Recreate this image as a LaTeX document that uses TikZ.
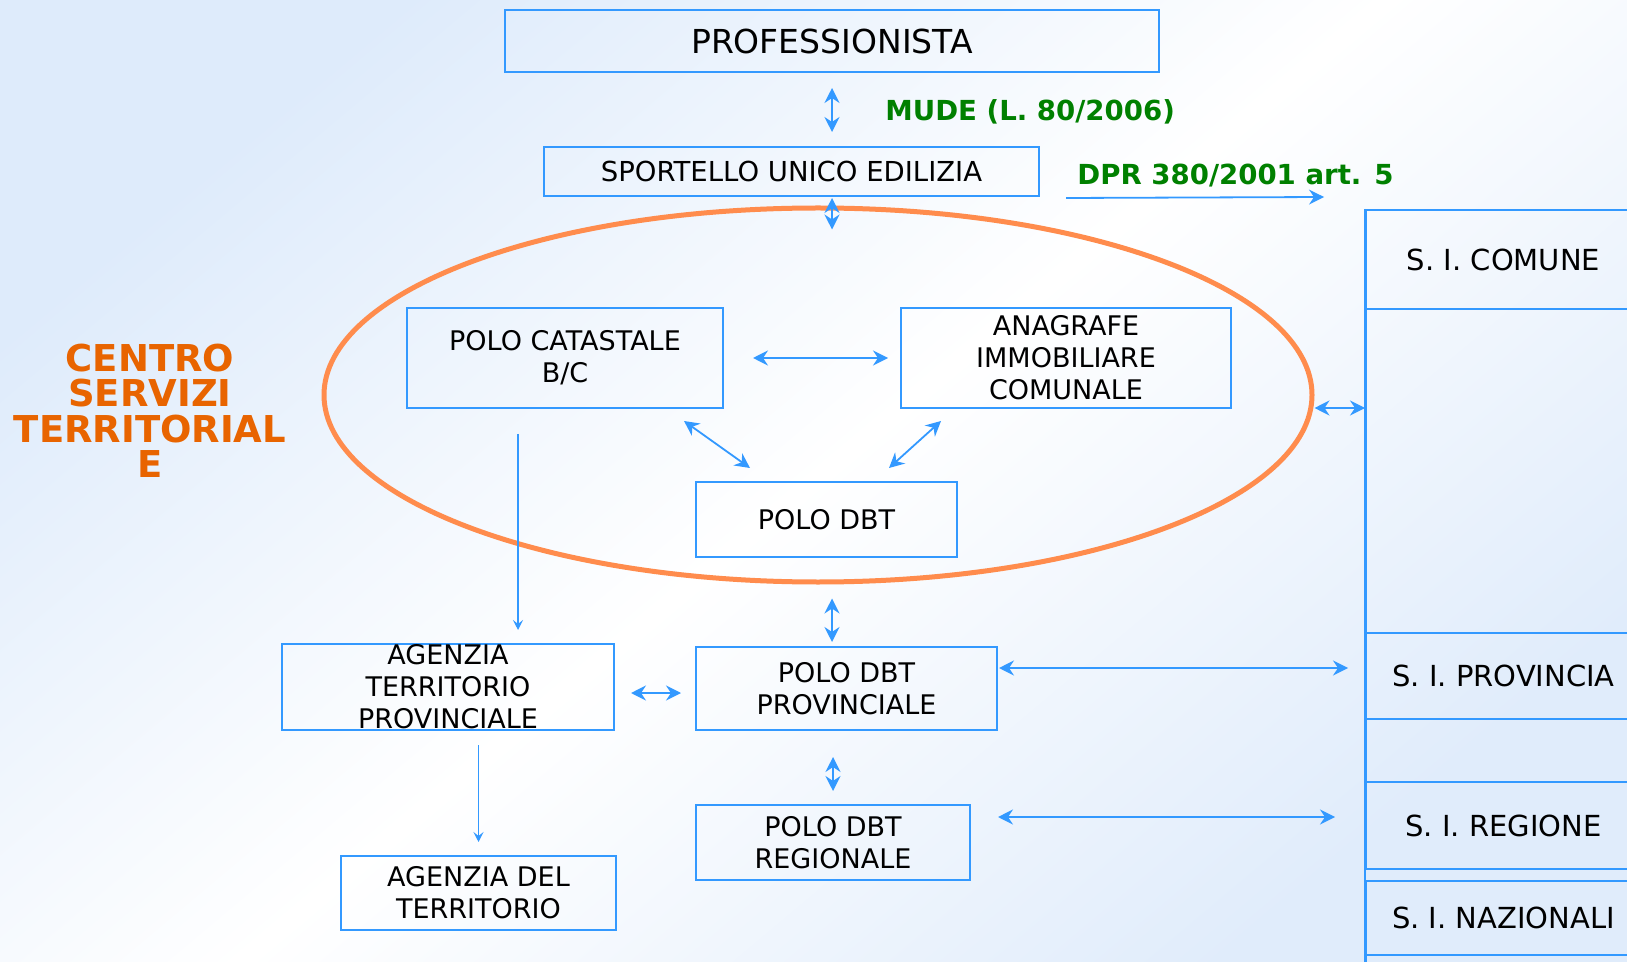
\documentclass[tikz,border=0pt]{standalone}
\usepackage{fontspec}
\setmainfont{DejaVu Sans}
\usepackage{tikz}
\usetikzlibrary{arrows.meta,positioning,calc,shapes.geometric}
\definecolor{boxblue}{RGB}{51,153,255}
\definecolor{ringorange}{RGB}{255,140,77}
\definecolor{lawgreen}{RGB}{0,128,0}
\definecolor{cstorange}{RGB}{232,100,0}
\definecolor{bgblue}{RGB}{222,235,251}
\definecolor{bgbluelow}{RGB}{224,236,251}
\tikzset{
  box/.style={rectangle, draw=boxblue, line width=1pt, inner sep=0pt,
              align=center, font=\fontsize{13.5}{16}\selectfont},
  sibox/.style={rectangle, draw=boxblue, line width=1pt, inner sep=0pt,
                minimum width=137.5pt, anchor=north west,
                font=\fontsize{14.5}{17}\selectfont},
  ring/.style={ellipse, draw=ringorange, line width=2.5pt, inner sep=0pt,
               minimum width=494pt, minimum height=187pt},
  link/.style={boxblue, line width=0.9pt},
  flow/.style={boxblue, line width=0.9pt, >={Stealth[length=5pt,width=5pt,inset=2pt]}},
  law/.style={font=\fontsize{13.8}{16}\selectfont\bfseries, text=lawgreen, inner sep=0pt},
}
\begin{document}
\begin{tikzpicture}[x=0.5pt, y=-0.5pt, >={Stealth[length=7.5pt,width=7.5pt,inset=2.5pt]}]
  % Background
  \shade[top color=bgblue, bottom color=bgbluelow, middle color=white, shading angle=40]
    (0,0) rectangle (1627,962);
  \useasboundingbox (0,0) rectangle (1627,962);
  \clip (0,0) rectangle (1627,962);
  % Upper chain
  \node[box, minimum width=327pt, minimum height=31pt,
        font=\fontsize{16.5}{19}\selectfont] (prof) at (832,41) {PROFESSIONISTA};
  \node[box, minimum width=247.5pt, minimum height=24.5pt,
        font=\fontsize{13.75}{16}\selectfont] (sue) at (791.5,171.5) {SPORTELLO UNICO EDILIZIA};
  \node[law, anchor=west] (mude) at (885,112) {MUDE (L. 80/2006)};
  \node[law, anchor=west] (dpr) at (1077,176) {DPR 380/2001 art. 5};
  % Territorial service centre
  \node[ring] (cst) at (818,395) {};
  \node[font=\fontsize{18.5}{17.75}\selectfont\bfseries, text=cstorange, align=center,
        inner sep=0pt] (csttitle) at (150,411) {CENTRO\\SERVIZI\\TERRITORIAL\\E};
  \node[box, minimum width=158pt, minimum height=50pt] (polocat) at (565,358) {POLO CATASTALE\\B/C};
  \node[box, minimum width=165pt, minimum height=50pt] (anagrafe) at (1066,358) {ANAGRAFE\\IMMOBILIARE\\COMUNALE};
  \node[box, minimum width=130.5pt, minimum height=37.5pt] (polodbt) at (826.5,519.5) {POLO DBT};
  % Lower levels
  \node[box, minimum width=166pt, minimum height=43pt] (agtp) at (448,687) {AGENZIA\\TERRITORIO\\PROVINCIALE};
  \node[box, minimum width=150.5pt, minimum height=41.5pt] (dbtprov) at (846.5,688.5) {POLO DBT\\PROVINCIALE};
  \node[box, minimum width=137pt, minimum height=37.5pt] (dbtreg) at (833,842.5) {POLO DBT\\REGIONALE};
  \node[box, minimum width=137.5pt, minimum height=37pt] (agdt) at (478.5,893) {AGENZIA DEL\\TERRITORIO};
  % Information systems column
  \node[sibox, minimum height=49.5pt] (sicom) at (1365,209) {S. I. COMUNE};
  \node[sibox, minimum height=162pt] (sigap) at (1365,308) {};
  \node[sibox, minimum height=43pt] (siprov) at (1365,632) {S. I. PROVINCIA};
  \node[sibox, minimum height=31.5pt] (sigapb) at (1365,718) {};
  \node[sibox, minimum height=43.5pt] (sireg) at (1365,781) {S. I. REGIONE};
  \node[sibox, minimum height=37pt] (sinaz) at (1365,880) {S. I. NAZIONALI};
  \node[sibox, minimum height=20pt] (sinext) at (1365,954) {};
  \draw[boxblue, line width=1pt] (sicom.north west) -- (sinext.south west);
  % Connectors
  \coordinate (dprtip) at (1324,197);
  \coordinate (comlvl) at ($(cst.east)+(0,13)$);
  \coordinate (provlvl) at ($(dbtprov.north east)+(1,22)$);
  \coordinate (reglvl) at ($(dbtreg.north east)+(27,13)$);
  \coordinate (catdrop) at ($(polocat.south west)+(112,25)$);
  \draw[link, <->, shorten <=7.5pt, shorten >=7pt] (prof.south) -- (prof.south |- sue.north);
  \draw[link, <->, shorten <=0.5pt, shorten >=-12pt] (prof.south |- sue.south) -- (prof.south |- cst.north);
  \draw[link, ->] ($(sue.south east)+(26,1)$) -- (dprtip);
  \draw[link, <->, shorten <=14.5pt, shorten >=6pt] (polocat.east) -- (anagrafe.west);
  \draw[link, <->] ($(polocat.south east)+(-40,12)$) -- ($(polodbt.north west)+(55,-13)$);
  \draw[link, <->] ($(anagrafe.south west)+(41,12)$) -- ($(polodbt.north east)+(-69,-13)$);
  \draw[link, <->] (comlvl) -- (comlvl -| sigap.west);
  \draw[link, <->, shorten <=7pt, shorten >=2pt] (prof.south |- cst.south) -- (prof.south |- dbtprov.north);
  \draw[link, <->] ($(agtp.east)+(16,6)$) -- ($(dbtprov.west)+(-14,4.5)$);
  \draw[link, <->, shorten >=8.5pt] (provlvl) -- (provlvl -| siprov.west);
  \draw[link, <->, shorten <=13pt, shorten >=6.5pt] (dbtprov.south -| dbtreg.north) -- (dbtreg.north);
  \draw[link, <->, shorten >=15pt] (reglvl) -- (reglvl -| sireg.west);
  \draw[flow, ->, shorten >=6.5pt] (catdrop) -- (catdrop |- agtp.north);
  \draw[flow, ->, shorten <=7pt, shorten >=6.5pt] (agtp.south -| agdt.north) -- (agdt.north);
\end{tikzpicture}
\end{document}
